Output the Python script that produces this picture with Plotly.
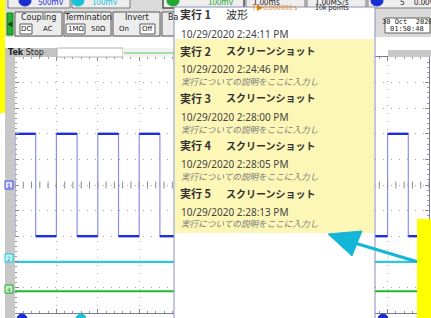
import numpy as np
import plotly.graph_objects as go

W, H = 431, 318

# ---------------- data ----------------
time_range_ms = [-5.0, 5.0]          # 1 ms/div, 10 divisions
volt_range_div = [-5.0, 5.0]
ch1_rise_ms = [-5.0, -4.0, -3.0, -2.0, -1.0, 0.0, 1.0, 2.0, 3.0, 4.0]
ch1_fall_ms = [-4.5, -3.5, -2.5, -1.5, -0.5, 0.5, 1.5, 2.5, 3.5, 4.5]
ch1_high_div = 2.0
ch1_low_div = -2.0
ch2_level_div = -3.0
ch4_level_div = -4.15

run_titles = ["実行 1", "実行 2", "実行 3", "実行 4", "実行 5"]
run_kinds = ["波形", "スクリーンショット", "スクリーンショット", "スクリーンショット", "スクリーンショット"]
run_times = ["10/29/2020 2:24:11 PM", "10/29/2020 2:24:46 PM", "10/29/2020 2:28:00 PM",
             "10/29/2020 2:28:05 PM", "10/29/2020 2:28:13 PM"]
run_desc = [None, "実行についての説明をここに入力し", "実行についての説明をここに入力し",
            "実行についての説明をここに入力し", "実行についての説明をここに入力し"]

# ---------------- helpers (pixel -> paper) ----------------
def px(x):
    return x / W

def py(y):
    return 1 - y / H

shapes = []
annos = []

def rect(x0, y0, x1, y1, fill, line=None, lw=1, layer="above"):
    shapes.append(dict(type="rect", xref="paper", yref="paper",
                       x0=px(x0), x1=px(x1), y0=py(y1), y1=py(y0),
                       fillcolor=fill, layer=layer,
                       line=dict(color=line if line else "rgba(0,0,0,0)", width=lw if line else 0)))

def circ(x0, y0, x1, y1, fill, line=None):
    shapes.append(dict(type="circle", xref="paper", yref="paper",
                       x0=px(x0), x1=px(x1), y0=py(y1), y1=py(y0),
                       fillcolor=fill, layer="above",
                       line=dict(color=line if line else fill, width=1)))

def hline(x0, x1, y, color, w=1, dash=None):
    shapes.append(dict(type="line", xref="paper", yref="paper",
                       x0=px(x0), x1=px(x1), y0=py(y), y1=py(y), layer="above",
                       line=dict(color=color, width=w, dash=dash)))

def txt(x, y, s, size=9, color="#222", anchor="left", fam="Noto Sans CJK JP"):
    annos.append(dict(xref="paper", yref="paper", x=px(x), y=py(y), text=s,
                      showarrow=False, xanchor=anchor, yanchor="middle",
                      font=dict(size=size, color=color, family=fam)))

# ---------------- oscilloscope chrome ----------------
rect(0, 0, W, 37, "#dadada")
rect(0, 37, 175, 48, "#ffffff")
# top row buttons (cut off)
rect(8, -6, 70, 8, "#eeeeee", "#7a7a7a")
rect(72, -6, 130, 8, "#eeeeee", "#7a7a7a")
rect(163, -6, 244, 8, "#eeeeee", "#505050", 1.5)
rect(246, -6, 305, 8, "#eeeeee", "#7a7a7a")
rect(307, -6, 366, 8, "#eeeeee", "#7a7a7a")
rect(368, -6, 436, 8, "#eeeeee", "#7a7a7a")
circ(19, -4, 31, 6, "#1a2fd0")
circ(72, -4, 84, 6, "#17c4d6")
circ(167, -4, 179, 6, "#21a631")
circ(371, -4, 383, 6, "#1a2fd0")
txt(36, 1, "500mV", 8, "#1a2fd0")
txt(90, 1, "100mV", 8, "#17c4d6")
txt(206, 1, "100mV", 8, "#21a631")
txt(251, 1, "1.00ms", 8, "#222")
txt(250, 7, "T▶0.000000 s", 7, "#e07b00")
txt(313, 1, "1.00MS/s", 8, "#222")
txt(313, 7, "10k points", 7, "#222")
txt(398, 1, "5", 8, "#222")
txt(412, 1, "0.00V", 8, "#222")

# yellow stripe left
rect(0, 0, 5, 113, "#ffff00")
# green tab
rect(7, 13, 13, 35, "#22b22f", "#1a7a22")
txt(10, 24, "◀", 6, "#1b3b1b", "center")
# panels
panels = [(15, 62, "Coupling", "DC", (20, 32), "AC", 48),
          (64, 111, "Termination", "1MΩ", (66, 85), "50Ω", 98),
          (113, 160, "Invert", "Off", (140, 155), "On", 124)]
for x0, x1, title, sel, (b0, b1), other, ox in panels:
    rect(x0, 12, x1, 36, "#ececec", "#5a5a5a")
    txt((x0 + x1) / 2, 18, title, 8, "#222", "center", "DejaVu Sans")
    rect(b0, 24, b1, 34, "#ffffff", "#5a5a5a")
    txt((b0 + b1) / 2, 29, sel, 7, "#222", "center", "DejaVu Sans")
    txt(ox, 29, other, 7, "#222", "center", "DejaVu Sans")
rect(162, 12, 185, 36, "#ececec", "#5a5a5a")
txt(166, 18, "Ba", 8, "#222", "left", "DejaVu Sans")

# Tek Stop bar
rect(5, 48, 57, 57, "#c4c4c4")
txt(6, 52.5, "<b>Tek</b> Stop", 8, "#222", "left", "DejaVu Sans")
rect(57, 48, 123, 57, "#ffffff", "#b0b0b0")
rect(123, 48, 175, 57, "#f2f2f2")
hline(124, 175, 53, "#a8e0a8", 2)
# right side top
rect(375, 37, W, 50, "#ffffff")
rect(388, 50, W, 57, "#c8c8c8")
rect(385, 18, 430, 33, "#ffffff", "#606060")
txt(407, 22, "30 Oct  2020", 7, "#222", "center", "DejaVu Sans Mono")
txt(407, 29, "01:50:48", 7, "#222", "center", "DejaVu Sans Mono")
# left gray strip
rect(5, 57, 15, H + 2, "#c8c8c8")
# channel markers
rect(5, 181, 13, 189, "#dde0ff", "#3a4ad0")
txt(9, 185, "1", 6, "#1a2fd0", "center", "DejaVu Sans")
rect(5, 254, 13, 262, "#c8f4f8", "#17c4d6")
txt(9, 258, "2", 6, "#17a4b6", "center", "DejaVu Sans")
rect(5, 285, 13, 293, "#c8f0c8", "#21a631")
txt(9, 289, "4", 6, "#21a631", "center", "DejaVu Sans")
# bottom buttons
circ(17, 314, 27, 324, "#1a2fd0")
circ(76, 314, 86, 324, "#17c4d6")
circ(378, 314, 388, 324, "#1a2fd0")

# ---------------- popup ----------------
rect(174, 7, 375, H + 3, "#ffffff", "#8a90b8")
rect(175, 39, 374, 233, "#fcf7b6")
rows_y = [(14, 34, None), (51, 69, 81), (98, 117, 129), (145, 164, 176), (193, 212, 223)]
for i, (yt, yd, yi) in enumerate(rows_y):
    txt(178, yt, "<b>" + run_titles[i] + "</b>", 11, "#333")
    if i:
        txt(224, yt, "<b>" + run_kinds[i] + "</b>", 10, "#333")
    else:
        txt(224, yt, run_kinds[i], 11, "#333")
    txt(179, yd, run_times[i], 10, "#444", "left", "Noto Sans")
    if run_desc[i]:
        txt(179, yi, "<i>" + run_desc[i] + "</i>", 8.6, "#7a7a7a")

# arrow + yellow box at right bottom
shapes.append(dict(type="line", xref="paper", yref="paper",
                   x0=px(418), y0=py(262), x1=px(348), y1=py(241), layer="above",
                   line=dict(color="#14b6d8", width=3)))
shapes.append(dict(type="path", xref="paper", yref="paper", layer="above",
                   path=f"M {px(328)} {py(234)} L {px(362)} {py(231)} L {px(352)} {py(256)} Z",
                   fillcolor="#14b6d8", line=dict(color="#14b6d8", width=1)))
rect(417, 219, W + 2, H + 2, "#ffff00")

# ---------------- waveform traces ----------------
xs, ys = [], []
for r, f in zip(ch1_rise_ms, ch1_fall_ms):
    xs += [r, r, f, f]
    ys += [ch1_low_div, ch1_high_div, ch1_high_div, ch1_low_div]
xs.append(time_range_ms[1]); ys.append(ch1_low_div)

hx, hy = [], []
for i, (r, f) in enumerate(zip(ch1_rise_ms, ch1_fall_ms)):
    nxt = ch1_rise_ms[i + 1] if i + 1 < len(ch1_rise_ms) else time_range_ms[1]
    hx += [r, f, None, f, nxt, None]
    hy += [ch1_high_div, ch1_high_div, None, ch1_low_div, ch1_low_div, None]

fig = go.Figure()
fig.add_trace(go.Scatter(x=xs, y=ys, mode="lines", line=dict(color="#8e8ef0", width=1.2),
                         hoverinfo="skip", showlegend=False))
fig.add_trace(go.Scatter(x=hx, y=hy, mode="lines", line=dict(color="#1f2fd8", width=2.4),
                         hoverinfo="skip", showlegend=False))
fig.add_trace(go.Scatter(x=time_range_ms, y=[ch2_level_div, ch2_level_div], mode="lines",
                         line=dict(color="#2fc8d8", width=2.2), hoverinfo="skip", showlegend=False))
fig.add_trace(go.Scatter(x=time_range_ms, y=[ch4_level_div, ch4_level_div], mode="lines",
                         line=dict(color="#22b82e", width=2.2), hoverinfo="skip", showlegend=False))

# centre crosshair tick marks
tx = np.arange(time_range_ms[0], time_range_ms[1] + 1e-9, 0.2)
vy = np.arange(volt_range_div[0], volt_range_div[1] + 1e-9, 0.2)
fig.add_trace(go.Scatter(x=tx, y=np.zeros_like(tx), mode="markers",
                         marker=dict(symbol="line-ns", size=5, line=dict(color="#8a8a8a", width=1)),
                         hoverinfo="skip", showlegend=False))
fig.add_trace(go.Scatter(x=np.zeros_like(vy), y=vy, mode="markers",
                         marker=dict(symbol="line-ew", size=5, line=dict(color="#8a8a8a", width=1)),
                         hoverinfo="skip", showlegend=False))

ax_common = dict(showgrid=True, gridcolor="#a8a8a8", griddash="1px,7px", gridwidth=1,
                 zeroline=False, showticklabels=False, showline=True, linecolor="#7a7a9a",
                 linewidth=1, mirror="allticks", ticks="inside", ticklen=4, tickcolor="#8a8a8a",
                 dtick=1, minor=dict(dtick=0.2, ticks="inside", ticklen=2, tickcolor="#9a9a9a",
                                     showgrid=False), fixedrange=True)

fig.update_layout(
    width=W, height=H, margin=dict(l=0, r=0, t=0, b=0),
    paper_bgcolor="#ffffff", plot_bgcolor="#ffffff",
    xaxis=dict(range=time_range_ms, domain=[px(15), px(429)], tick0=0, **ax_common),
    yaxis=dict(range=volt_range_div, domain=[py(313), py(57)], tick0=0, **ax_common),
    shapes=shapes, annotations=annos, showlegend=False,
)

fig.write_html("out.html", config={"displayModeBar": False},
               post_script="document.body.style.margin='0';document.body.style.overflow='hidden';")
